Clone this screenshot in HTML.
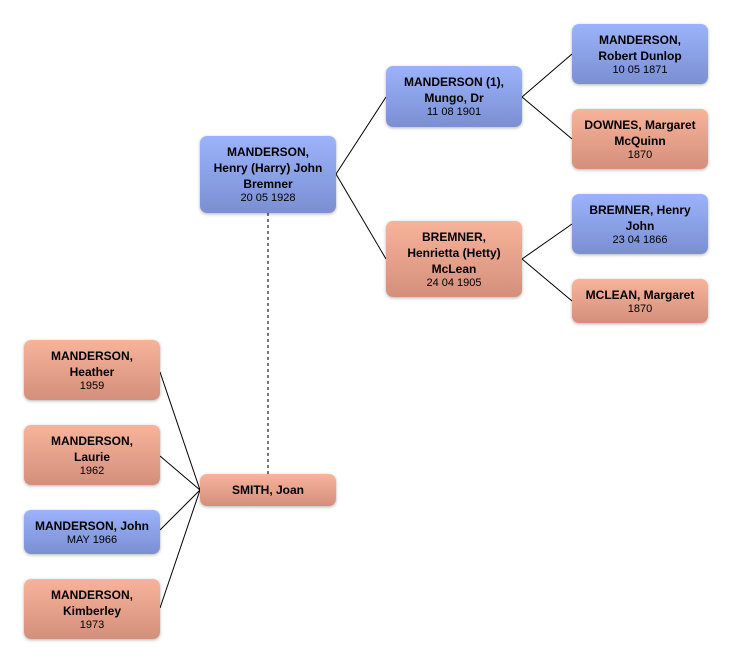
<!DOCTYPE html>
<html><head><style>
body{margin:0;width:732px;height:664px;background:#fff;position:relative;font-family:"Liberation Sans",sans-serif;}
.b{position:absolute;width:136px;border-radius:7px;box-shadow:0 1px 3px rgba(0,0,0,.3);display:flex;flex-direction:column;justify-content:center;align-items:center;text-align:center;color:#000;}
.m{background:linear-gradient(#9bb3fb,#7b8fd2);}
.f{background:linear-gradient(#f8b39a,#d48f7c);}
.n{font-weight:bold;font-size:12px;line-height:16px;}
.d{font-size:11px;line-height:13px;}
svg{position:absolute;left:0;top:0;}
</style></head><body>
<svg width="732" height="664">
<g stroke="#000" stroke-width="1" fill="none">
<path d="M336 174L386 97M336 174L386 259M522 97L572 54M522 97L572 139M522 259L572 224M522 259L572 301"/>
<path d="M160 372L200 490M160 456L200 490M160 530L200 490M160 608L200 490"/>
</g>
<path d="M268 213V474" stroke="#777" stroke-width="2" stroke-dasharray="3,3"/>
</svg>
<div class="b m" style="left:200px;top:136px;height:77px"><div class="n">MANDERSON,<br>Henry (Harry) John<br>Bremner</div><div class="d">20 05 1928</div></div>
<div class="b m" style="left:386px;top:66px;height:61px"><div class="n">MANDERSON (1),<br>Mungo, Dr</div><div class="d">11 08 1901</div></div>
<div class="b f" style="left:386px;top:221px;height:76px"><div class="n">BREMNER,<br>Henrietta (Hetty)<br>McLean</div><div class="d">24 04 1905</div></div>
<div class="b m" style="left:572px;top:24px;height:60px"><div class="n">MANDERSON,<br>Robert Dunlop</div><div class="d">10 05 1871</div></div>
<div class="b f" style="left:572px;top:109px;height:60px"><div class="n">DOWNES, Margaret<br>McQuinn</div><div class="d">1870</div></div>
<div class="b m" style="left:572px;top:194px;height:60px"><div class="n">BREMNER, Henry<br>John</div><div class="d">23 04 1866</div></div>
<div class="b f" style="left:572px;top:279px;height:44px"><div class="n">MCLEAN, Margaret</div><div class="d">1870</div></div>
<div class="b f" style="left:24px;top:340px;height:60px"><div class="n">MANDERSON,<br>Heather</div><div class="d">1959</div></div>
<div class="b f" style="left:24px;top:425px;height:60px"><div class="n">MANDERSON,<br>Laurie</div><div class="d">1962</div></div>
<div class="b m" style="left:24px;top:510px;height:44px"><div class="n">MANDERSON, John</div><div class="d">MAY 1966</div></div>
<div class="b f" style="left:24px;top:579px;height:60px"><div class="n">MANDERSON,<br>Kimberley</div><div class="d">1973</div></div>
<div class="b f" style="left:200px;top:474px;height:32px"><div class="n">SMITH, Joan</div></div>
</body></html>
